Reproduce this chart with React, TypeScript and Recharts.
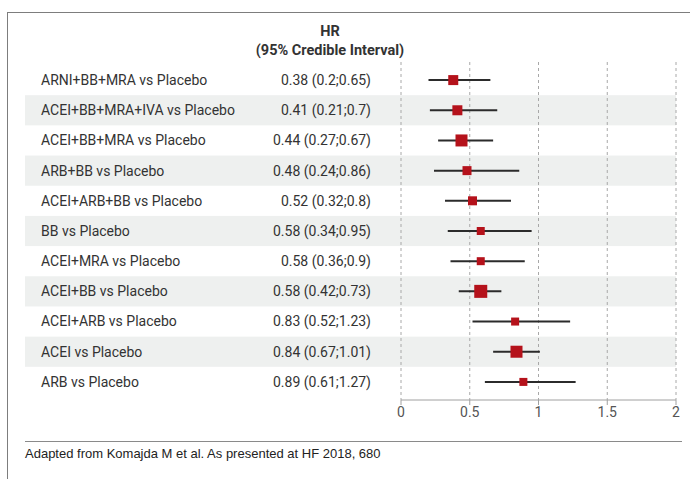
import React from 'react';
import { ScatterChart, Scatter, XAxis, YAxis, CartesianGrid, ErrorBar } from 'recharts';

const comparisons = [
    'ARNI+BB+MRA vs Placebo',
    'ACEI+BB+MRA+IVA vs Placebo',
    'ACEI+BB+MRA vs Placebo',
    'ARB+BB vs Placebo',
    'ACEI+ARB+BB vs Placebo',
    'BB vs Placebo',
    'ACEI+MRA vs Placebo',
    'ACEI+BB vs Placebo',
    'ACEI+ARB vs Placebo',
    'ACEI vs Placebo',
    'ARB vs Placebo',
];
const hr = [0.38, 0.41, 0.44, 0.48, 0.52, 0.58, 0.58, 0.58, 0.83, 0.84, 0.89];
const lower = [0.2, 0.21, 0.27, 0.24, 0.32, 0.34, 0.36, 0.42, 0.52, 0.67, 0.61];
const upper = [0.65, 0.7, 0.67, 0.86, 0.8, 0.95, 0.9, 0.73, 1.23, 1.01, 1.27];
// relative weight of each comparison
const weight = [10, 10, 12, 9, 9, 8, 8, 13, 8, 12, 8];
const xTicks = [0, 0.5, 1, 1.5, 2];

const data = comparisons.map((name, i) => ({
    name,
    hr: hr[i],
    ci: [hr[i] - lower[i], upper[i] - hr[i]],
    label: `${hr[i]} (${lower[i]};${upper[i]})`,
    weight: weight[i],
}));

const W = 690;
const H = 479;
const MARGIN = { top: 62, right: 14, bottom: 49, left: 25 };
const Y_PAD = { top: 3, bottom: 3 };
const Y_AXIS_W = 376;
const X_AXIS_H = 30;
const ROW_H = (H - MARGIN.top - MARGIN.bottom - X_AXIS_H - Y_PAD.top - Y_PAD.bottom) / data.length;
const PLOT_RIGHT = W - MARGIN.right;

const FONT = 'Roboto, "Noto Sans", sans-serif';

// background chart: alternating row bands, drawn from the category axis
const BandTick = (props: any) => {
    const { y, payload } = props;
    if (payload.index % 2 === 0) return <g />;
    return <rect x={MARGIN.left} y={y - ROW_H / 2} width={PLOT_RIGHT - MARGIN.left} height={ROW_H} fill="#eef0ef" />;
};

const RowTick = (props: any) => {
    const { y, payload } = props;
    const row = data[payload.index];
    return (
        <g>
            <text x={41} y={y} dy="0.35em" fontSize={14} fill="#333" fontFamily={FONT}>
                {row.name}
            </text>
            <text x={371} y={y} dy="0.35em" fontSize={14} fill="#333" fontFamily={FONT} textAnchor="end">
                {row.label}
            </text>
        </g>
    );
};

const Square = (props: any) => {
    const { cx, cy, payload } = props;
    const s = payload.weight;
    return <rect x={cx - s / 2} y={cy - s / 2} width={s} height={s} fill="#b5121b" />;
};

const Nothing = () => <g />;

const App = () => {
    return (
        <div style={{ position: 'absolute', left: 0, top: 0, width: W, height: H, background: '#fff', overflow: 'hidden' }}>
            <div
                style={{
                    position: 'absolute',
                    left: 7,
                    top: 12,
                    width: W,
                    height: H,
                    borderTop: '1.5px solid #7d7d7d',
                    borderLeft: '1.5px solid #7d7d7d',
                }}
            />
            <div style={{ position: 'absolute', left: 0, top: 0 }}>
                <ScatterChart width={W} height={H} margin={{ ...MARGIN, bottom: MARGIN.bottom + X_AXIS_H }}>
                    <XAxis type="number" dataKey="hr" domain={[0, 2]} hide />
                    <YAxis
                        type="category"
                        dataKey="name"
                        width={Y_AXIS_W}
                        padding={Y_PAD}
                        reversed
                        axisLine={false}
                        tickLine={false}
                        interval={0}
                        tick={BandTick}
                    />
                    <Scatter data={data} shape={Nothing} isAnimationActive={false} />
                </ScatterChart>
            </div>
            <div
                style={{
                    position: 'absolute',
                    left: 230,
                    width: 200,
                    top: 22,
                    textAlign: 'center',
                    fontFamily: FONT,
                    fontWeight: 700,
                    fontSize: 14.5,
                    lineHeight: '19px',
                    color: '#333',
                }}
            >
                HR
                <br />
                (95% Credible Interval)
            </div>
            <div style={{ position: 'absolute', left: 0, top: 0 }}>
                <ScatterChart width={W} height={H} margin={MARGIN}>
                    <CartesianGrid horizontal={false} strokeDasharray="3 3" stroke="#a8a8a8" />
                    <XAxis
                        type="number"
                        dataKey="hr"
                        domain={[0, 2]}
                        ticks={xTicks}
                        height={X_AXIS_H}
                        stroke="#a0a0a0"
                        tick={{ fill: '#555', fontSize: 14, fontFamily: FONT }}
                        tickSize={5}
                    />
                    <YAxis
                        type="category"
                        dataKey="name"
                        width={Y_AXIS_W}
                        padding={Y_PAD}
                        reversed
                        axisLine={false}
                        tickLine={false}
                        interval={0}
                        tick={RowTick}
                    />
                    <Scatter data={data} shape={Square} isAnimationActive={false}>
                        <ErrorBar dataKey="ci" direction="x" width={0} stroke="#2b2b2b" strokeWidth={2} />
                    </Scatter>
                </ScatterChart>
            </div>
            <div style={{ position: 'absolute', left: 25, top: 441, width: 657, borderTop: '1.5px solid #8a8a8a' }} />
            <div
                style={{
                    position: 'absolute',
                    left: 25,
                    top: 446,
                    fontFamily: '"Liberation Sans", Arial, sans-serif',
                    fontSize: 13,
                    color: '#222',
                }}
            >
                Adapted from Komajda M et al. As presented at HF 2018, 680
            </div>
        </div>
    );
};

export default App;
